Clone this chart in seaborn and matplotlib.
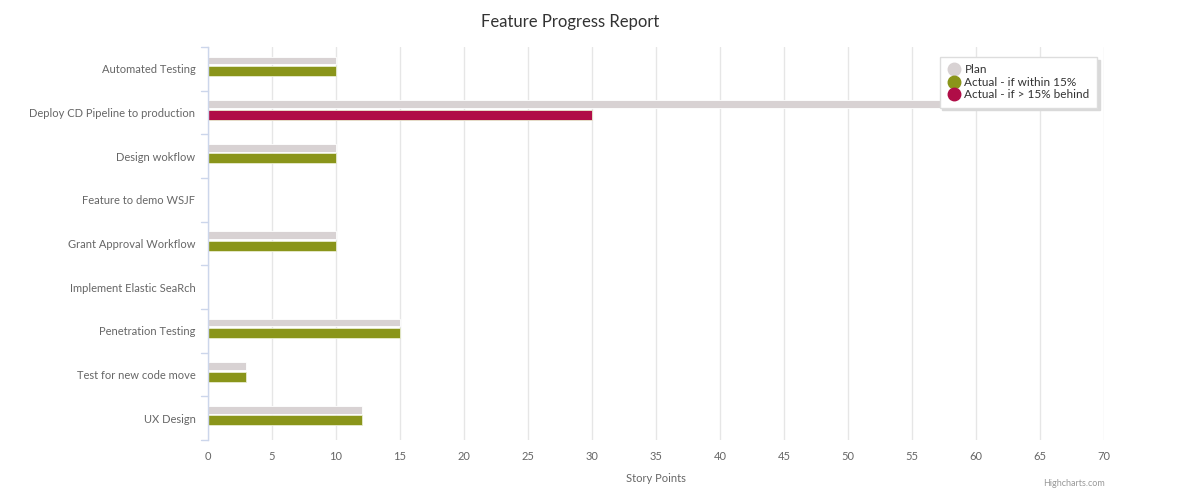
import pandas as pd
import matplotlib.pyplot as plt
from matplotlib.lines import Line2D
import seaborn as sns

# ---------- DATA ----------
features = [
    "Automated Testing",
    "Deploy CD Pipeline to production",
    "Design wokflow",
    "Feature to demo WSJF",
    "Grant Approval Workflow",
    "Implement Elastic SeaRch",
    "Penetration Testing",
    "Test for new code move",
    "UX Design",
]
plan = [10, 65, 10, 0, 10, 0, 15, 3, 12]
actual = [10, 30, 10, 0, 10, 0, 15, 3, 12]
x_ticks = list(range(0, 75, 5))

PLAN_COLOR = "#d8d2d3"
OK_COLOR = "#8a951a"
BEHIND_COLOR = "#b00d47"
TEXT = "#666666"


def actual_color(p, a):
    # behind by more than 15% of plan -> red
    if p > 0 and a < p * 0.85:
        return BEHIND_COLOR
    return OK_COLOR


df = pd.DataFrame({"Feature": features, "Plan": plan, "Actual": actual})
colors = [actual_color(p, a) for p, a in zip(plan, actual)]

# ---------- PLOT ----------
sns.set_theme(style="white")
plt.rcParams["font.family"] = ["Lato", "DejaVu Sans"]

fig = plt.figure(figsize=(12, 4.98), dpi=100)
ax = fig.add_axes([0.1733, 0.1165, 0.7467, 0.7891])

sns.barplot(data=df, y="Feature", x="Plan", color=PLAN_COLOR, width=0.17,
            saturation=1, ax=ax, orient="h", edgecolor="white", linewidth=0.6)
n_plan = len(ax.patches)
sns.barplot(data=df, y="Feature", x="Actual", hue="Feature", palette=colors,
            legend=False, width=0.23, saturation=1, ax=ax, orient="h",
            edgecolor="#e8ecd0", linewidth=0.6)

# shift plan bars up and actual bars slightly down inside each band
for i, p in enumerate(ax.patches):
    if i < n_plan:
        p.set_y(p.get_y() - 0.19)
    else:
        p.set_y(p.get_y() + 0.05)

ax.set_xlim(0, 70)
ax.set_ylim(len(features) - 0.5, -0.5)
ax.set_xticks(x_ticks)
ax.set_xticklabels([str(t) for t in x_ticks], fontsize=8, color=TEXT)
ax.tick_params(axis="x", length=0, pad=8)
ax.tick_params(axis="y", length=0, pad=9, labelsize=8, labelcolor=TEXT)
ax.grid(axis="x", color="#e6e6e6", linewidth=1)
ax.set_axisbelow(True)

for s in ["top", "right", "bottom"]:
    ax.spines[s].set_visible(False)
ax.spines["left"].set_color("#ccd6eb")
ax.spines["left"].set_linewidth(1)

# category boundary ticks on the left axis
for b in [i - 0.5 for i in range(len(features) + 1)]:
    ax.plot([-0.008, 0], [b, b], transform=ax.get_yaxis_transform(),
            color="#ccd6eb", linewidth=1, clip_on=False)

ax.set_ylabel("")
ax.set_xlabel("Story Points", fontsize=8, color=TEXT, labelpad=8)
fig.suptitle("Feature Progress Report", x=0.475, y=0.972, fontsize=12,
             color="#333333")

handles = [
    Line2D([], [], marker="o", linestyle="", markersize=9, color=PLAN_COLOR),
    Line2D([], [], marker="o", linestyle="", markersize=9, color=OK_COLOR),
    Line2D([], [], marker="o", linestyle="", markersize=9, color=BEHIND_COLOR),
]
leg = ax.legend(handles, ["Plan", "Actual - if within 15%", "Actual - if > 15% behind"],
                loc="upper right", bbox_to_anchor=(0.992, 0.975), borderaxespad=0,
                fontsize=8.5, frameon=True, fancybox=False,
                shadow={"color": "#d9d9d9", "alpha": 1},
                handletextpad=0.2, borderpad=0.6, labelspacing=0.15,
                handlelength=1.3, labelcolor="#333333")
leg.get_frame().set_edgecolor("#dddddd")
leg.get_frame().set_linewidth(1)

fig.text(0.9208, 0.025, "Highcharts.com", fontsize=6.5, color="#999999",
         ha="right")

fig.savefig("out.png", dpi=100, facecolor="white")
